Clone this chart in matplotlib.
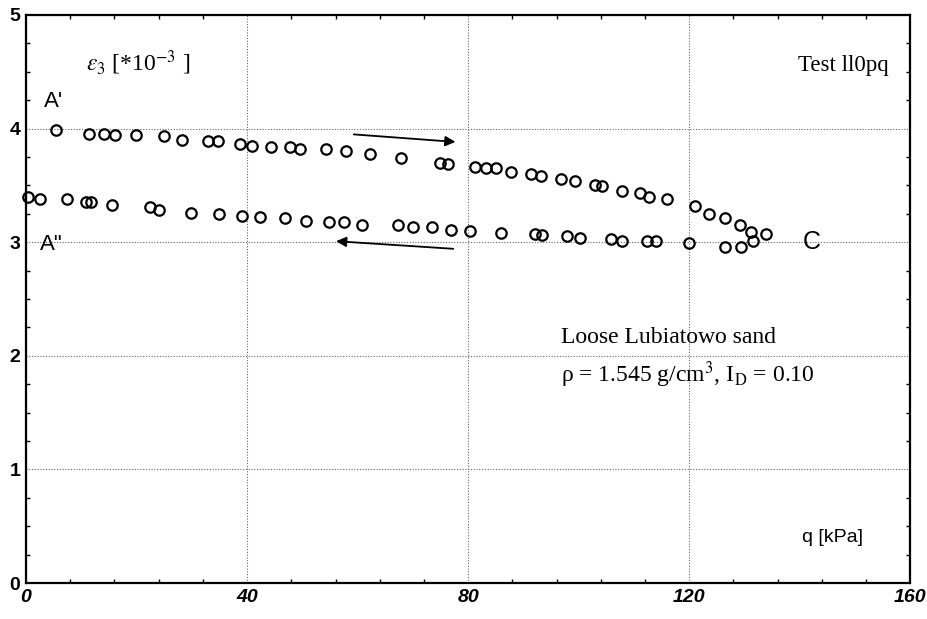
import matplotlib
matplotlib.use("Agg")
import matplotlib.pyplot as plt
from matplotlib.ticker import MultipleLocator

# loading branch A' -> C
Q_LOAD = [5.4, 11.4, 14.1, 16.1, 19.9, 24.9, 28.2, 33.0, 34.7, 38.8, 40.8, 44.4, 47.7, 49.6,
          54.3, 57.9, 62.3, 67.9, 74.9, 76.4, 81.2, 83.2, 85.0, 87.7, 91.3, 93.1, 96.8, 99.3,
          102.9, 104.3, 107.8, 111.0, 112.8, 115.9, 121.1, 123.6, 126.4, 129.2, 131.2, 133.8]
EPS_LOAD = [3.99, 3.95, 3.95, 3.94, 3.94, 3.93, 3.90, 3.89, 3.89, 3.86, 3.85, 3.84, 3.84, 3.82,
            3.82, 3.80, 3.78, 3.74, 3.70, 3.69, 3.66, 3.65, 3.65, 3.62, 3.60, 3.58, 3.56, 3.54,
            3.50, 3.49, 3.45, 3.43, 3.40, 3.38, 3.32, 3.25, 3.21, 3.15, 3.09, 3.07]

# unloading branch C -> A''
Q_UNLOAD = [131.6, 129.4, 126.4, 120.0, 113.9, 112.3, 107.8, 105.8, 100.2, 97.8, 93.3, 92.1,
            85.9, 80.3, 76.9, 73.5, 70.0, 67.3, 60.8, 57.6, 54.9, 50.7, 46.8, 42.4, 39.0, 35.0,
            29.8, 24.0, 22.4, 15.5, 11.7, 10.8, 7.4, 2.5, 0.4]
EPS_UNLOAD = [3.01, 2.96, 2.96, 2.99, 3.01, 3.01, 3.01, 3.03, 3.04, 3.05, 3.06, 3.07,
              3.08, 3.10, 3.11, 3.13, 3.13, 3.15, 3.15, 3.18, 3.18, 3.19, 3.21, 3.22, 3.23, 3.25,
              3.26, 3.28, 3.31, 3.33, 3.35, 3.35, 3.38, 3.38, 3.40]

X_TICKS = [0, 40, 80, 120, 160]
Y_TICKS = [0, 1, 2, 3, 4, 5]

SERIF = "Liberation Serif"
SANS = "Liberation Sans"

plt.rcParams["mathtext.fontset"] = "stix"

fig = plt.figure(figsize=(9.28, 6.19), dpi=100)
ax = fig.add_axes([0.028, 0.058, 0.953, 0.918])

ax.plot(Q_LOAD, EPS_LOAD, "o", mfc="none", mec="k", ms=7.5, mew=1.6, clip_on=False)
ax.plot(Q_UNLOAD, EPS_UNLOAD, "o", mfc="none", mec="k", ms=7.5, mew=1.6, clip_on=False)

ax.set_xlim(0, 160)
ax.set_ylim(0, 5)
ax.set_xticks(X_TICKS)
ax.set_yticks(Y_TICKS)
ax.xaxis.set_minor_locator(MultipleLocator(8))
ax.yaxis.set_minor_locator(MultipleLocator(0.25))
ax.tick_params(which="both", direction="in", top=True, right=True, length=3, width=1)
ax.tick_params(which="major", length=0, pad=4)
ax.grid(True, which="major", linestyle=(0, (1, 1.5)), color="#666666", linewidth=0.8)

for lab in ax.get_xticklabels():
    lab.set_fontfamily(SANS)
    lab.set_fontsize(14)
    lab.set_fontweight("bold")
    lab.set_fontstyle("italic")
for lab in ax.get_yticklabels():
    lab.set_fontfamily(SANS)
    lab.set_fontsize(14)
    lab.set_fontweight("bold")

for sp in ax.spines.values():
    sp.set_linewidth(1.6)

# arrows
ax.annotate("", xy=(78.2, 3.88), xytext=(58.8, 3.95),
            arrowprops=dict(arrowstyle="-|>", color="k", lw=1.3, mutation_scale=15))
ax.annotate("", xy=(55.6, 3.01), xytext=(77.8, 2.94),
            arrowprops=dict(arrowstyle="-|>", color="k", lw=1.3, mutation_scale=15))

# labels
ax.text(10.8, 4.58, r"$\varepsilon_3$ [*10$^{-3}$ ]", family=SERIF, fontsize=17, va="center")
ax.text(3.3, 4.24, "A'", family=SANS, fontsize=16, va="center")
ax.text(2.6, 2.98, "A\"", family=SANS, fontsize=16, va="center")
ax.text(140.5, 3.0, "C", family=SANS, fontsize=18, va="center")
ax.text(156, 4.55, "Test ll0pq", family=SERIF, fontsize=16.5, va="center", ha="right")
ax.text(96.8, 2.16, "Loose Lubiatowo sand", family=SERIF, fontsize=17, va="center")
ax.text(96.8, 1.83, r"ρ = 1.545 g/cm$^3$, I$_\mathrm{D}$ = 0.10", family=SERIF, fontsize=17,
        va="center")
ax.text(146, 0.4, "q [kPa]", family=SANS, fontsize=14, va="center", ha="center")

fig.savefig("out.png", dpi=100)
